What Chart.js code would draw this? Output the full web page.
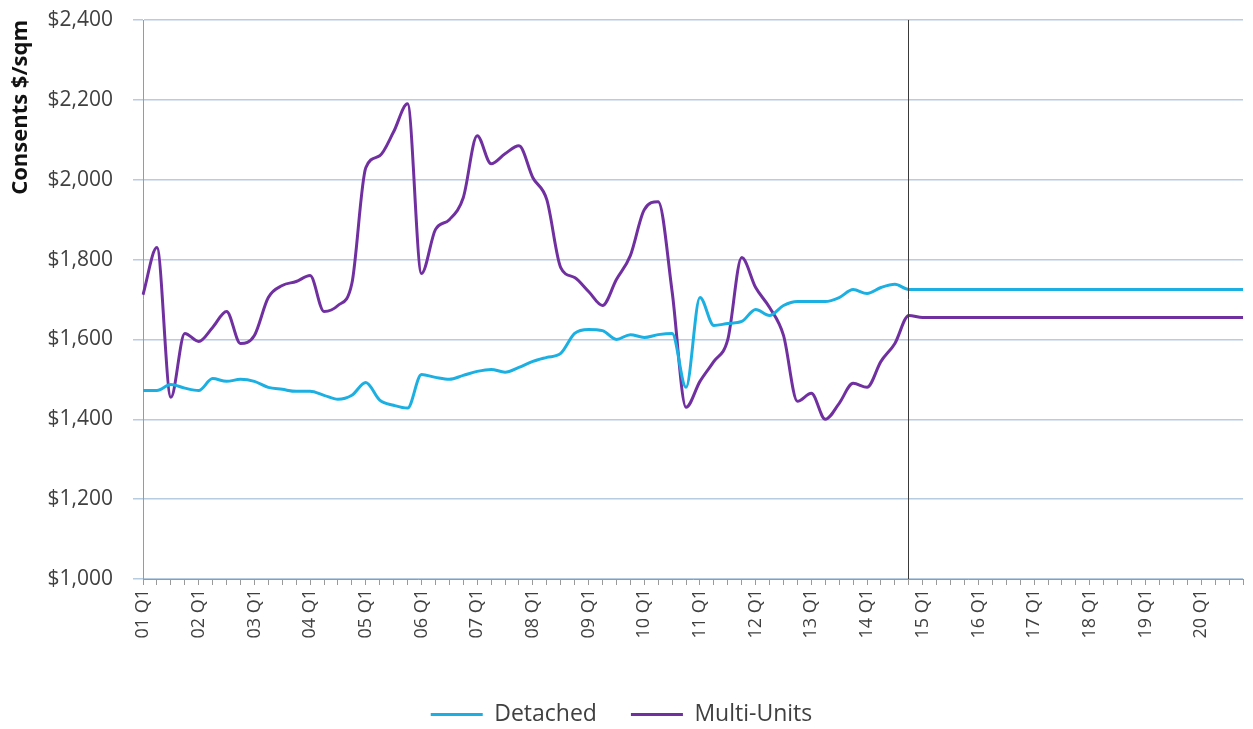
<!DOCTYPE html>
<html>
<head>
<meta charset="utf-8">
<script src="https://cdn.jsdelivr.net/npm/chart.js@4/dist/chart.umd.min.js"></script>
<style>
  html, body { margin: 0; padding: 0; background: #fff; }
  #wrap { width: 1253px; height: 729px; position: relative; }
</style>
</head>
<body>
<div id="wrap"><canvas id="chart"></canvas></div>
<script>
// years and quarters -> 80 category labels, 01 Q1 .. 20 Q4
const years = ['01','02','03','04','05','06','07','08','09','10',
               '11','12','13','14','15','16','17','18','19','20'];
const quarters = ['Q1','Q2','Q3','Q4'];

const detached = [
  1472, 1472, 1487, 1478, 1472, 1502, 1495, 1500,
  1495, 1480, 1475, 1470, 1470, 1460, 1450, 1460,
  1492, 1448, 1435, 1428, 1512, 1505, 1500, 1510,
  1520, 1525, 1518, 1530, 1545, 1555, 1565, 1615,
  1625, 1622, 1600, 1612, 1605, 1612, 1615, 1480,
  1705, 1635, 1640, 1645, 1675, 1660, 1685, 1695,
  1695, 1695, 1705, 1725, 1715, 1730, 1738, 1725,
  1725, 1725, 1725, 1725, 1725, 1725, 1725, 1725,
  1725, 1725, 1725, 1725, 1725, 1725, 1725, 1725,
  1725, 1725, 1725, 1725, 1725, 1725, 1725, 1725
];
const multiUnits = [
  1712, 1830, 1455, 1615, 1595, 1630, 1670, 1590,
  1610, 1705, 1735, 1745, 1760, 1670, 1685, 1740,
  2030, 2060, 2120, 2190, 1765, 1875, 1900, 1955,
  2110, 2040, 2065, 2085, 2005, 1950, 1780, 1755,
  1720, 1685, 1750, 1810, 1925, 1945, 1720, 1430,
  1495, 1545, 1600, 1805, 1730, 1680, 1610, 1445,
  1465, 1400, 1440, 1490, 1480, 1545, 1590, 1660,
  1655, 1655, 1655, 1655, 1655, 1655, 1655, 1655,
  1655, 1655, 1655, 1655, 1655, 1655, 1655, 1655,
  1655, 1655, 1655, 1655, 1655, 1655, 1655, 1655
];
const yTicks = [1000, 1200, 1400, 1600, 1800, 2000, 2200, 2400];
const markerLabel = '14 Q4';

const categories = [];
years.forEach(y => quarters.forEach(q => categories.push(y + ' ' + q)));

const FONT = '"Open Sans", "Noto Sans", sans-serif';
const TEXT = '#404040';

// vertical divider at the last actual quarter
const dividerPlugin = {
  id: 'divider',
  afterDatasetsDraw(chart) {
    const x = chart.scales.x.getPixelForValue(categories.indexOf(markerLabel));
    const ctx = chart.ctx;
    ctx.save();
    ctx.strokeStyle = '#3a3a3a';
    ctx.lineWidth = 1;
    ctx.beginPath();
    ctx.moveTo(Math.round(x) - 0.5, chart.chartArea.top);
    ctx.lineTo(Math.round(x) - 0.5, chart.chartArea.bottom);
    ctx.stroke();
    ctx.restore();
  }
};

new Chart(document.getElementById('chart'), {
  type: 'line',
  data: {
    labels: categories,
    datasets: [
      {
        label: 'Detached',
        data: detached,
        borderColor: '#1cb0e2',
        backgroundColor: '#1cb0e2',
        borderWidth: 3,
        pointRadius: 0,
        cubicInterpolationMode: 'monotone'
      },
      {
        label: 'Multi-Units',
        data: multiUnits,
        borderColor: '#7030a0',
        backgroundColor: '#7030a0',
        borderWidth: 3,
        pointRadius: 0,
        cubicInterpolationMode: 'monotone'
      }
    ]
  },
  options: {
    responsive: true,
    maintainAspectRatio: false,
    animation: false,
    layout: { padding: { top: 20, right: 10, left: 0, bottom: -7 } },
    plugins: {
      tooltip: { enabled: false },
      legend: {
        position: 'bottom',
        labels: {
          font: { family: FONT, size: 23 },
          color: TEXT,
          boxWidth: 52,
          boxHeight: 3,
          padding: 34,
          generateLabels(chart) {
            const items = Chart.defaults.plugins.legend.labels.generateLabels(chart);
            items.forEach(it => { it.lineWidth = 0; });
            return items;
          }
        }
      }
    },
    scales: {
      x: {
        type: 'category',
        offset: false,
        border: { color: '#9a9a9a', width: 1 },
        grid: {
          drawOnChartArea: false,
          drawTicks: true,
          tickLength: 6,
          color: '#9a9a9a'
        },
        ticks: {
          autoSkip: false,
          minRotation: 90,
          maxRotation: 90,
          padding: 4,
          color: TEXT,
          font: { family: FONT, size: 18 },
          callback(value, index) {
            return index % 4 === 0 ? categories[index] : '';
          }
        },
        afterFit(scale) {
          scale.height = 90;
          scale.paddingLeft = 0;
          scale.paddingRight = 0;
        }
      },
      y: {
        min: 1000,
        max: 2400,
        border: { color: '#9a9a9a', width: 1 },
        grid: {
          color: '#b7cbe3',
          lineWidth: 1.5,
          tickLength: 10
        },
        afterBuildTicks(scale) {
          scale.ticks = yTicks.map(v => ({ value: v }));
        },
        ticks: {
          padding: 20,
          color: TEXT,
          font: { family: FONT, size: 21 },
          callback(v) { return '$' + v.toLocaleString('en-US'); }
        },
        title: {
          display: true,
          text: 'Consents $/sqm',
          align: 'end',
          color: '#111',
          font: { family: FONT, size: 22, weight: 'bold' },
          padding: { top: 8, bottom: 0 }
        },
        afterFit(scale) {
          scale.width = 143;
          scale.paddingTop = 0;
          scale.paddingBottom = 0;
        }
      }
    }
  },
  plugins: [dividerPlugin]
});
</script>
</body>
</html>
